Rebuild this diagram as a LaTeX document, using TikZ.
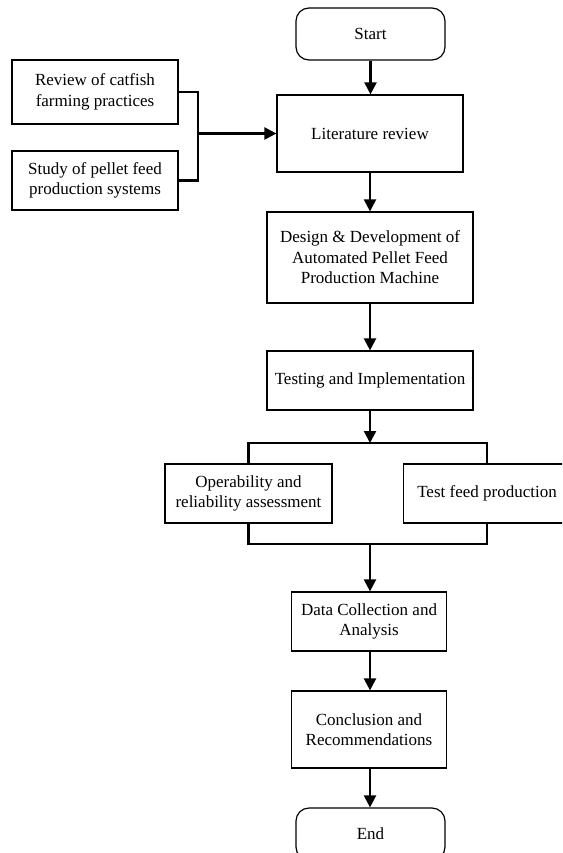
\documentclass[tikz,border=0pt]{standalone}
\usepackage{fontspec}
\setmainfont{Liberation Serif}
\usetikzlibrary{arrows.meta}
\begin{document}
\begin{tikzpicture}[x=1pt,y=-1pt,
  box/.style={draw=black,line width=1.2pt,align=center,inner sep=0pt,
    font=\fontsize{17}{20.5}\selectfont},
  term/.style={box,rounded corners=13pt},
  conn/.style={line width=2.2pt},
  arr/.style={conn,-{Triangle[length=12pt,width=12pt]}}]
\useasboundingbox (0,0) rectangle (562,853);
\clip (0,0) rectangle (562,853);
\node[term,minimum width=149pt,minimum height=52pt] (start) at (370.5,34) {Start};
\node[box,minimum width=186pt,minimum height=77pt] (lit) at (370,133.5) {Literature review};
\node[box,minimum width=166pt,minimum height=64pt] (rev) at (95,92) {Review of catfish\\farming practices};
\node[box,minimum width=166pt,minimum height=59pt] (study) at (95,180.5) {Study of pellet feed\\production systems};
\node[box,minimum width=206pt,minimum height=91pt] (design) at (370,257.5) {Design \& Development of\\Automated Pellet Feed\\Production Machine};
\node[box,minimum width=206pt,minimum height=59pt] (test) at (370,380.5) {Testing and Implementation};
\node[box,minimum width=167pt,minimum height=59pt] (oper) at (248.5,493.5) {Operability and\\reliability assessment};
\node[box,minimum width=167pt,minimum height=59pt] (feed) at (487,493.5) {Test feed production};
\node[box,minimum width=155pt,minimum height=59pt] (data) at (369,621.5) {Data Collection and\\Analysis};
\node[box,minimum width=155pt,minimum height=77pt] (concl) at (369,729.5) {Conclusion and\\Recommendations};
\node[term,minimum width=149pt,minimum height=52pt] (end) at (370.5,834) {End};
\coordinate (jl) at (198,133.5);
\coordinate (jt) at (370,443);
\coordinate (jb) at (370,544);
% arrows
\draw[arr] (start.south) -- (start.south |- lit.north);
\draw[arr] (lit.south) -- (design.north);
\draw[arr] (design.south) -- (test.north);
\draw[arr] (test.south) -- (jt);
\draw[arr] (jb) -- (jb |- data.north);
\draw[arr] (jb |- data.south) -- (jb |- concl.north);
\draw[arr] (jb |- concl.south) -- (jb |- end.north);
% left bracket
\draw[conn] (rev.east) -| (jl |- study.east) -- (study.east);
\draw[arr] (jl) -- (lit.west);
% split/join brackets
\draw[conn] (oper.north) -- (oper.north |- jt) -- (feed.north |- jt) -- (feed.north);
\draw[conn] (oper.south) -- (oper.south |- jb) -- (feed.south |- jb) -- (feed.south);
\end{tikzpicture}
\end{document}
